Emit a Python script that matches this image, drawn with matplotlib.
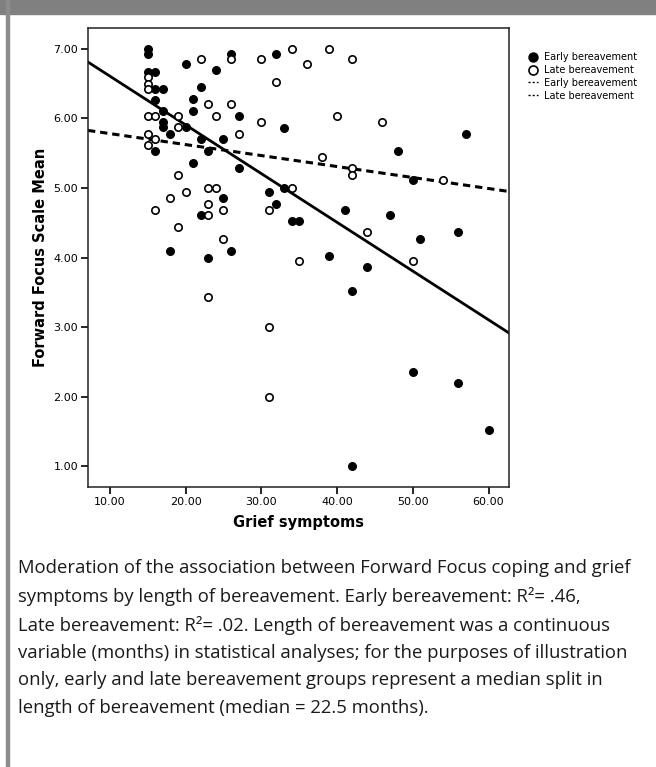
import matplotlib
matplotlib.use("Agg")
import matplotlib.pyplot as plt
from matplotlib.lines import Line2D
from matplotlib.patches import Rectangle

# Grief symptoms (x) vs Forward Focus Scale Mean (y)
early_x = [15, 15, 15, 16, 16, 17, 20, 24, 26, 32, 22, 16, 21, 21, 17, 27,
           17, 17, 20, 18, 22, 25, 23, 16, 21, 27, 33, 57, 48, 50, 25, 22,
           18, 26, 23, 31, 32, 33, 34, 35, 41, 47, 51, 56, 39, 44, 42, 42,
           50, 56, 60]
early_y = [7.00, 6.92, 6.67, 6.67, 6.43, 6.43, 6.78, 6.69, 6.93, 6.93, 6.45,
           6.27, 6.28, 6.11, 6.11, 6.03, 5.95, 5.87, 5.87, 5.78, 5.70, 5.70,
           5.53, 5.53, 5.36, 5.28, 5.86, 5.78, 5.53, 5.11, 4.86, 4.61, 4.10,
           4.10, 4.00, 4.94, 4.77, 5.00, 4.52, 4.52, 4.69, 4.61, 4.27, 4.36,
           4.02, 3.86, 3.52, 1.00, 2.35, 2.19, 1.52]

late_x = [15, 15, 15, 22, 26, 30, 32, 23, 26, 15, 16, 19, 24, 30, 19, 15,
          27, 16, 15, 19, 34, 39, 36, 42, 40, 46, 38, 42, 42, 54, 23, 24,
          18, 20, 23, 16, 25, 23, 19, 25, 23, 31, 34, 44, 35, 50, 31, 31]
late_y = [6.60, 6.50, 6.42, 6.86, 6.86, 6.86, 6.53, 6.20, 6.20, 6.03, 6.03,
          6.03, 6.03, 5.95, 5.87, 5.78, 5.78, 5.70, 5.62, 5.19, 7.00, 7.00,
          6.78, 6.86, 6.03, 5.95, 5.44, 5.28, 5.19, 5.11, 5.00, 5.00, 4.86,
          4.94, 4.77, 4.69, 4.69, 4.61, 4.44, 4.27, 3.43, 4.69, 5.00, 4.36,
          3.95, 3.95, 3.00, 2.00]

# fit lines: (intercept, slope)
early_fit = (7.31, -0.0701)
late_fit = (5.94, -0.0158)

x_ticks = [10, 20, 30, 40, 50, 60]
y_ticks = [1, 2, 3, 4, 5, 6, 7]

legend_labels = ["Early bereavement", "Late bereavement",
                 "Early bereavement", "Late bereavement"]

caption = ("Moderation of the association between Forward Focus coping and grief\n"
           "symptoms by length of bereavement. Early bereavement: R\u00b2= .46,\n"
           "Late bereavement: R\u00b2= .02. Length of bereavement was a continuous\n"
           "variable (months) in statistical analyses; for the purposes of illustration\n"
           "only, early and late bereavement groups represent a median split in\n"
           "length of bereavement (median = 22.5 months).")

W, H = 656, 767
fig = plt.figure(figsize=(W / 100, H / 100), dpi=100)

# grey frame pieces of the figure box (top bar + left rule)
fig.patches.append(Rectangle((0, 1 - 14 / H), 1, 14 / H, transform=fig.transFigure,
                             color="#808080", zorder=0))
fig.patches.append(Rectangle((6 / W, 0), 2.5 / W, 1, transform=fig.transFigure,
                             color="#8c8c8c", zorder=0))

ax = fig.add_axes([88 / W, 1 - 487 / H, (509 - 88) / W, (487 - 28) / H])

ax.scatter(early_x, early_y, s=32, color="black", edgecolor="black",
           linewidth=0.8, zorder=3)
ax.scatter(late_x, late_y, s=28, facecolor="white", edgecolor="black",
           linewidth=1.2, zorder=3)

ax.axline((0, early_fit[0]), slope=early_fit[1], color="black", lw=2.0, zorder=2)
ax.axline((0, late_fit[0]), slope=late_fit[1], color="black", lw=2.2,
          ls=(0, (2.4, 1.6)), zorder=2)

ax.set_xlim(7.13, 62.7)
ax.set_ylim(0.7, 7.3)
ax.set_xticks(x_ticks)
ax.set_xticklabels([f"{v:.2f}" for v in x_ticks])
ax.set_yticks(y_ticks)
ax.set_yticklabels([f"{v:.2f}" for v in y_ticks])
ax.tick_params(direction="out", length=5, width=1.2, labelsize=8, pad=2)
for sp in ax.spines.values():
    sp.set_linewidth(1.1)
    sp.set_color("#222222")

ax.set_xlabel("Grief symptoms", fontsize=10.5, fontweight="bold", labelpad=6)
ax.set_ylabel("Forward Focus Scale Mean", fontsize=10.5, fontweight="bold",
              labelpad=4)

handles = [
    Line2D([], [], ls="none", marker="o", ms=6.5, color="black"),
    Line2D([], [], ls="none", marker="o", ms=6.5, mfc="white", mec="black", mew=1.2),
    Line2D([], [], color="black", lw=1.0, ls=(0, (1.5, 1.5))),
    Line2D([], [], color="black", lw=1.0, ls=(0, (1.5, 1.5))),
]
fig.legend(handles, legend_labels, loc="upper left",
           bbox_to_anchor=(528 / W, 1 - 52 / H), frameon=False, fontsize=7,
           handlelength=1.0, handletextpad=0.6, labelspacing=0.3,
           borderpad=0, borderaxespad=0)

fig.text(18 / W, 1 - 559 / H, caption, ha="left", va="top", fontsize=13.3,
         family=["Open Sans", "DejaVu Sans"], linespacing=1.66, color="#1a1a1a")

fig.savefig("out.png", dpi=100)
